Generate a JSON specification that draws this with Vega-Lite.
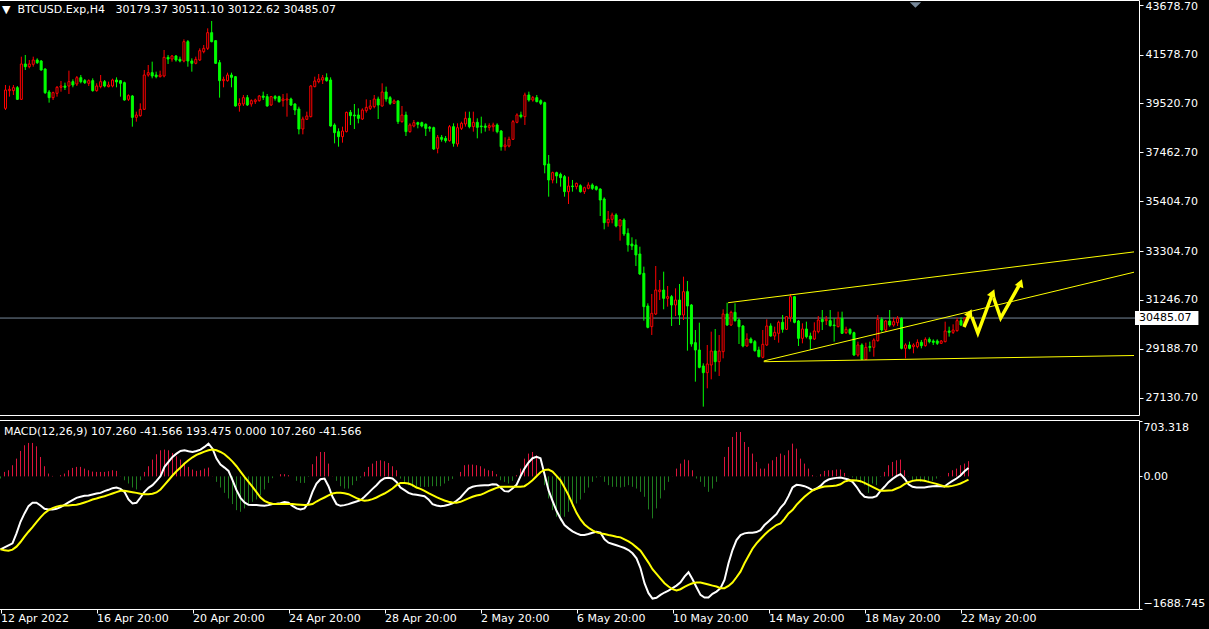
{
"$schema":"https://vega.github.io/schema/vega-lite/v6.json",
"background":"#000000",
"padding":{"left":-4,"top":-1,"right":0,"bottom":0},
"spacing":3,
"config":{
 "view":{"stroke":"#ffffff","strokeWidth":1,"fill":"#000000"},
 "font":"DejaVu Sans",
 "axis":{"labelFont":"DejaVu Sans","labelFontSize":11,"labelColor":"#ffffff","tickColor":"#ffffff","domain":false,"grid":false,"tickSize":4,"labelOverlap":false,"labelBound":false},
 "title":{"font":"DejaVu Sans","fontSize":11,"fontWeight":"normal","color":"#ffffff","anchor":"start","frame":"group"}
},
"datasets":{
"bars":[
{"t":"2022-04-12T20:00Z","o":39314,"h":40297,"l":39244,"c":40086,"m":-929,"s":-929,"d":-27},
{"t":"2022-04-13T00:00Z","o":40058,"h":40269,"l":39806,"c":40114,"m":-904,"s":-942,"d":57},
{"t":"2022-04-13T04:00Z","o":40058,"h":40297,"l":39876,"c":40185,"m":-878,"s":-946,"d":78},
{"t":"2022-04-13T08:00Z","o":40185,"h":40255,"l":39665,"c":39693,"m":-853,"s":-933,"d":142},
{"t":"2022-04-13T12:00Z","o":39693,"h":41489,"l":39665,"c":41181,"m":-726,"s":-895,"d":226},
{"t":"2022-04-13T16:00Z","o":41181,"h":41560,"l":40928,"c":41068,"m":-578,"s":-836,"d":324},
{"t":"2022-04-13T20:00Z","o":41068,"h":41349,"l":40998,"c":41181,"m":-472,"s":-768,"d":396},
{"t":"2022-04-14T00:00Z","o":41167,"h":41489,"l":41068,"c":41349,"m":-379,"s":-705,"d":426},
{"t":"2022-04-14T04:00Z","o":41349,"h":41419,"l":41181,"c":41237,"m":-336,"s":-646,"d":426},
{"t":"2022-04-14T08:00Z","o":41307,"h":41349,"l":40900,"c":40928,"m":-336,"s":-582,"d":383},
{"t":"2022-04-14T12:00Z","o":40970,"h":40998,"l":39918,"c":39974,"m":-370,"s":-523,"d":247},
{"t":"2022-04-14T16:00Z","o":40002,"h":40086,"l":39553,"c":39764,"m":-413,"s":-468,"d":129},
{"t":"2022-04-14T20:00Z","o":39764,"h":40016,"l":39665,"c":39974,"m":-421,"s":-430,"d":36},
{"t":"2022-04-15T00:00Z","o":39946,"h":40255,"l":39806,"c":40199,"m":-421,"s":-404,"d":6},
{"t":"2022-04-15T04:00Z","o":40199,"h":40465,"l":40016,"c":40255,"m":-413,"s":-387,"d":0},
{"t":"2022-04-15T08:00Z","o":40255,"h":40395,"l":40086,"c":40199,"m":-391,"s":-375,"d":15},
{"t":"2022-04-15T12:00Z","o":40255,"h":40900,"l":39918,"c":40437,"m":-362,"s":-370,"d":36},
{"t":"2022-04-15T16:00Z","o":40437,"h":40535,"l":40199,"c":40297,"m":-332,"s":-370,"d":78},
{"t":"2022-04-15T20:00Z","o":40339,"h":40676,"l":40255,"c":40605,"m":-303,"s":-366,"d":108},
{"t":"2022-04-16T00:00Z","o":40605,"h":40718,"l":40367,"c":40437,"m":-273,"s":-362,"d":121},
{"t":"2022-04-16T04:00Z","o":40479,"h":40549,"l":40339,"c":40395,"m":-260,"s":-349,"d":121},
{"t":"2022-04-16T08:00Z","o":40367,"h":40535,"l":40255,"c":40479,"m":-248,"s":-332,"d":99},
{"t":"2022-04-16T12:00Z","o":40479,"h":40577,"l":40016,"c":40058,"m":-243,"s":-315,"d":78},
{"t":"2022-04-16T16:00Z","o":40058,"h":40367,"l":40016,"c":40255,"m":-231,"s":-294,"d":61},
{"t":"2022-04-16T20:00Z","o":40227,"h":40718,"l":40157,"c":40437,"m":-218,"s":-281,"d":57},
{"t":"2022-04-17T00:00Z","o":40437,"h":40507,"l":40199,"c":40255,"m":-210,"s":-265,"d":57},
{"t":"2022-04-17T04:00Z","o":40227,"h":40437,"l":40199,"c":40297,"m":-188,"s":-252,"d":57},
{"t":"2022-04-17T08:00Z","o":40255,"h":40563,"l":40199,"c":40507,"m":-171,"s":-235,"d":66},
{"t":"2022-04-17T12:00Z","o":40507,"h":40619,"l":40199,"c":40423,"m":-150,"s":-218,"d":78},
{"t":"2022-04-17T16:00Z","o":40479,"h":40507,"l":39806,"c":40367,"m":-142,"s":-201,"d":70},
{"t":"2022-04-17T20:00Z","o":40395,"h":40437,"l":39637,"c":39665,"m":-159,"s":-184,"d":2},
{"t":"2022-04-18T00:00Z","o":39693,"h":39904,"l":39623,"c":39848,"m":-197,"s":-184,"d":-49},
{"t":"2022-04-18T04:00Z","o":39834,"h":39876,"l":38542,"c":38935,"m":-294,"s":-193,"d":-91},
{"t":"2022-04-18T08:00Z","o":38935,"h":39174,"l":38753,"c":39034,"m":-345,"s":-201,"d":-142},
{"t":"2022-04-18T12:00Z","o":39006,"h":39525,"l":38963,"c":39272,"m":-336,"s":-210,"d":-167},
{"t":"2022-04-18T16:00Z","o":39272,"h":40928,"l":39244,"c":40718,"m":-269,"s":-222,"d":-49},
{"t":"2022-04-18T20:00Z","o":40718,"h":41139,"l":40647,"c":40816,"m":-197,"s":-227,"d":57},
{"t":"2022-04-19T00:00Z","o":40816,"h":41279,"l":40577,"c":40676,"m":-146,"s":-227,"d":129},
{"t":"2022-04-19T04:00Z","o":40718,"h":40858,"l":40577,"c":40647,"m":-112,"s":-222,"d":214},
{"t":"2022-04-19T08:00Z","o":40647,"h":40900,"l":40619,"c":40718,"m":-57,"s":-205,"d":281},
{"t":"2022-04-19T12:00Z","o":40676,"h":41770,"l":40619,"c":41461,"m":2,"s":-167,"d":332},
{"t":"2022-04-19T16:00Z","o":41461,"h":41560,"l":41181,"c":41391,"m":121,"s":-108,"d":341},
{"t":"2022-04-19T20:00Z","o":41391,"h":41560,"l":41279,"c":41517,"m":184,"s":-49,"d":332},
{"t":"2022-04-20T00:00Z","o":41517,"h":41560,"l":41279,"c":41349,"m":248,"s":11,"d":298},
{"t":"2022-04-20T04:00Z","o":41377,"h":41489,"l":41251,"c":41307,"m":290,"s":66,"d":256},
{"t":"2022-04-20T08:00Z","o":41307,"h":42219,"l":41251,"c":42121,"m":324,"s":112,"d":214},
{"t":"2022-04-20T12:00Z","o":42121,"h":42191,"l":41068,"c":41307,"m":332,"s":163,"d":163},
{"t":"2022-04-20T16:00Z","o":41307,"h":41419,"l":40858,"c":41209,"m":320,"s":205,"d":121},
{"t":"2022-04-20T20:00Z","o":41209,"h":41489,"l":41167,"c":41377,"m":311,"s":243,"d":87},
{"t":"2022-04-21T00:00Z","o":41349,"h":41840,"l":41307,"c":41742,"m":324,"s":273,"d":70},
{"t":"2022-04-21T04:00Z","o":41700,"h":41981,"l":41630,"c":41840,"m":341,"s":294,"d":78},
{"t":"2022-04-21T08:00Z","o":41840,"h":42682,"l":41770,"c":42500,"m":375,"s":315,"d":99},
{"t":"2022-04-21T12:00Z","o":42500,"h":42991,"l":42093,"c":42121,"m":417,"s":332,"d":112},
{"t":"2022-04-21T16:00Z","o":42163,"h":42191,"l":41181,"c":41209,"m":353,"s":341,"d":2},
{"t":"2022-04-21T20:00Z","o":41237,"h":41349,"l":39764,"c":40479,"m":226,"s":332,"d":-70},
{"t":"2022-04-22T00:00Z","o":40479,"h":40647,"l":40199,"c":40535,"m":150,"s":311,"d":-142},
{"t":"2022-04-22T04:00Z","o":40479,"h":40816,"l":40437,"c":40718,"m":112,"s":282,"d":-210},
{"t":"2022-04-22T08:00Z","o":40718,"h":40816,"l":40199,"c":40619,"m":70,"s":239,"d":-281},
{"t":"2022-04-22T12:00Z","o":40647,"h":40676,"l":39385,"c":39413,"m":-49,"s":188,"d":-353},
{"t":"2022-04-22T16:00Z","o":39441,"h":39735,"l":39174,"c":39525,"m":-176,"s":129,"d":-430},
{"t":"2022-04-22T20:00Z","o":39497,"h":39876,"l":39413,"c":39764,"m":-273,"s":61,"d":-451},
{"t":"2022-04-23T00:00Z","o":39764,"h":39876,"l":39413,"c":39455,"m":-332,"s":-6,"d":-408},
{"t":"2022-04-23T04:00Z","o":39497,"h":39693,"l":39385,"c":39637,"m":-362,"s":-70,"d":-366},
{"t":"2022-04-23T08:00Z","o":39595,"h":39721,"l":39497,"c":39665,"m":-366,"s":-133,"d":-324},
{"t":"2022-04-23T12:00Z","o":39637,"h":39876,"l":39595,"c":39834,"m":-366,"s":-201,"d":-294},
{"t":"2022-04-23T16:00Z","o":39834,"h":40016,"l":39665,"c":39778,"m":-370,"s":-269,"d":-239},
{"t":"2022-04-23T20:00Z","o":39806,"h":39918,"l":39385,"c":39413,"m":-375,"s":-311,"d":-167},
{"t":"2022-04-24T00:00Z","o":39455,"h":39834,"l":39413,"c":39806,"m":-366,"s":-336,"d":-83},
{"t":"2022-04-24T04:00Z","o":39806,"h":39876,"l":39637,"c":39735,"m":-353,"s":-349,"d":-23},
{"t":"2022-04-24T08:00Z","o":39806,"h":39848,"l":39553,"c":39595,"m":-349,"s":-353,"d":0},
{"t":"2022-04-24T12:00Z","o":39637,"h":39918,"l":39385,"c":39707,"m":-341,"s":-353,"d":28},
{"t":"2022-04-24T16:00Z","o":39665,"h":39946,"l":38963,"c":39707,"m":-328,"s":-353,"d":28},
{"t":"2022-04-24T20:00Z","o":39707,"h":39764,"l":39413,"c":39455,"m":-336,"s":-353,"d":15},
{"t":"2022-04-25T00:00Z","o":39497,"h":39525,"l":39034,"c":39244,"m":-375,"s":-353,"d":0},
{"t":"2022-04-25T04:00Z","o":39286,"h":39385,"l":38220,"c":38444,"m":-408,"s":-358,"d":-57},
{"t":"2022-04-25T08:00Z","o":38444,"h":38963,"l":38220,"c":38865,"m":-421,"s":-362,"d":-83},
{"t":"2022-04-25T12:00Z","o":38851,"h":39174,"l":38823,"c":38992,"m":-408,"s":-366,"d":-83},
{"t":"2022-04-25T16:00Z","o":38963,"h":40297,"l":38935,"c":40255,"m":-336,"s":-362,"d":-6},
{"t":"2022-04-25T20:00Z","o":40227,"h":40647,"l":40199,"c":40465,"m":-197,"s":-353,"d":155},
{"t":"2022-04-26T00:00Z","o":40437,"h":40760,"l":40367,"c":40549,"m":-91,"s":-320,"d":256},
{"t":"2022-04-26T04:00Z","o":40507,"h":40718,"l":40339,"c":40605,"m":-36,"s":-294,"d":311},
{"t":"2022-04-26T08:00Z","o":40605,"h":40788,"l":40437,"c":40479,"m":-27,"s":-269,"d":311},
{"t":"2022-04-26T12:00Z","o":40507,"h":40619,"l":38542,"c":38570,"m":-125,"s":-243,"d":163},
{"t":"2022-04-26T16:00Z","o":38613,"h":38683,"l":37841,"c":38290,"m":-260,"s":-218,"d":2},
{"t":"2022-04-26T20:00Z","o":38332,"h":38472,"l":37700,"c":38121,"m":-353,"s":-210,"d":-57},
{"t":"2022-04-27T00:00Z","o":38121,"h":38542,"l":37869,"c":38360,"m":-375,"s":-210,"d":-125},
{"t":"2022-04-27T04:00Z","o":38332,"h":39174,"l":38304,"c":39146,"m":-366,"s":-214,"d":-155},
{"t":"2022-04-27T08:00Z","o":39146,"h":39244,"l":38613,"c":39006,"m":-353,"s":-227,"d":-155},
{"t":"2022-04-27T12:00Z","o":39034,"h":39497,"l":38444,"c":38992,"m":-336,"s":-252,"d":-112},
{"t":"2022-04-27T16:00Z","o":39034,"h":39314,"l":38683,"c":38893,"m":-320,"s":-277,"d":-57},
{"t":"2022-04-27T20:00Z","o":38865,"h":39314,"l":38823,"c":39244,"m":-303,"s":-298,"d":-15},
{"t":"2022-04-28T00:00Z","o":39216,"h":39693,"l":39132,"c":39356,"m":-260,"s":-311,"d":57},
{"t":"2022-04-28T04:00Z","o":39314,"h":39665,"l":39244,"c":39413,"m":-210,"s":-303,"d":121},
{"t":"2022-04-28T08:00Z","o":39385,"h":39876,"l":39314,"c":39707,"m":-159,"s":-290,"d":163},
{"t":"2022-04-28T12:00Z","o":39707,"h":39806,"l":38865,"c":39455,"m":-112,"s":-269,"d":197},
{"t":"2022-04-28T16:00Z","o":39413,"h":40367,"l":39385,"c":40002,"m":-57,"s":-243,"d":205},
{"t":"2022-04-28T20:00Z","o":40002,"h":40227,"l":39595,"c":39707,"m":-23,"s":-218,"d":193},
{"t":"2022-04-29T00:00Z","o":39764,"h":39834,"l":39455,"c":39525,"m":-19,"s":-188,"d":171},
{"t":"2022-04-29T04:00Z","o":39525,"h":39693,"l":39497,"c":39623,"m":-27,"s":-155,"d":129},
{"t":"2022-04-29T08:00Z","o":39623,"h":39665,"l":38655,"c":38753,"m":-70,"s":-112,"d":78},
{"t":"2022-04-29T12:00Z","o":38753,"h":39413,"l":38711,"c":39034,"m":-142,"s":-83,"d":-28},
{"t":"2022-04-29T16:00Z","o":39034,"h":39174,"l":38150,"c":38332,"m":-176,"s":-83,"d":-70},
{"t":"2022-04-29T20:00Z","o":38332,"h":38683,"l":38290,"c":38613,"m":-210,"s":-91,"d":-112},
{"t":"2022-04-30T00:00Z","o":38570,"h":38823,"l":38514,"c":38711,"m":-227,"s":-112,"d":-133},
{"t":"2022-04-30T04:00Z","o":38711,"h":38753,"l":38472,"c":38641,"m":-235,"s":-142,"d":-133},
{"t":"2022-04-30T08:00Z","o":38711,"h":38753,"l":38514,"c":38570,"m":-243,"s":-159,"d":-133},
{"t":"2022-04-30T12:00Z","o":38641,"h":38683,"l":38150,"c":38472,"m":-252,"s":-184,"d":-133},
{"t":"2022-04-30T16:00Z","o":38514,"h":38570,"l":38332,"c":38472,"m":-294,"s":-214,"d":-133},
{"t":"2022-04-30T20:00Z","o":38500,"h":38542,"l":37560,"c":37602,"m":-353,"s":-239,"d":-125},
{"t":"2022-05-01T00:00Z","o":37630,"h":38192,"l":37420,"c":38093,"m":-370,"s":-265,"d":-125},
{"t":"2022-05-01T04:00Z","o":38093,"h":38192,"l":37911,"c":38009,"m":-379,"s":-286,"d":-125},
{"t":"2022-05-01T08:00Z","o":38051,"h":38150,"l":37869,"c":37953,"m":-375,"s":-307,"d":-91},
{"t":"2022-05-01T12:00Z","o":37953,"h":38613,"l":37911,"c":38542,"m":-362,"s":-324,"d":-57},
{"t":"2022-05-01T16:00Z","o":38542,"h":38683,"l":37700,"c":37841,"m":-345,"s":-332,"d":-32},
{"t":"2022-05-01T20:00Z","o":37813,"h":38683,"l":37700,"c":38500,"m":-311,"s":-336,"d":0},
{"t":"2022-05-02T00:00Z","o":38472,"h":38753,"l":38402,"c":38683,"m":-269,"s":-324,"d":57},
{"t":"2022-05-02T04:00Z","o":38655,"h":39174,"l":38542,"c":38893,"m":-210,"s":-303,"d":142},
{"t":"2022-05-02T08:00Z","o":38893,"h":39174,"l":38472,"c":38542,"m":-155,"s":-281,"d":150},
{"t":"2022-05-02T12:00Z","o":38542,"h":39174,"l":38332,"c":38725,"m":-133,"s":-260,"d":150},
{"t":"2022-05-02T16:00Z","o":38725,"h":38893,"l":38051,"c":38514,"m":-121,"s":-243,"d":142},
{"t":"2022-05-02T20:00Z","o":38570,"h":38963,"l":38262,"c":38542,"m":-116,"s":-235,"d":129},
{"t":"2022-05-03T00:00Z","o":38570,"h":38683,"l":38332,"c":38514,"m":-112,"s":-214,"d":99},
{"t":"2022-05-03T04:00Z","o":38514,"h":38683,"l":38374,"c":38584,"m":-112,"s":-188,"d":78},
{"t":"2022-05-03T08:00Z","o":38542,"h":38711,"l":38332,"c":38613,"m":-100,"s":-167,"d":70},
{"t":"2022-05-03T12:00Z","o":38613,"h":38683,"l":38262,"c":38332,"m":-104,"s":-146,"d":28},
{"t":"2022-05-03T16:00Z","o":38360,"h":38402,"l":37532,"c":37700,"m":-142,"s":-133,"d":-49},
{"t":"2022-05-03T20:00Z","o":37700,"h":38093,"l":37532,"c":37771,"m":-188,"s":-133,"d":-70},
{"t":"2022-05-04T00:00Z","o":37729,"h":38121,"l":37672,"c":38009,"m":-193,"s":-133,"d":-91},
{"t":"2022-05-04T04:00Z","o":38009,"h":38823,"l":37981,"c":38753,"m":-155,"s":-133,"d":-57},
{"t":"2022-05-04T08:00Z","o":38725,"h":39104,"l":38683,"c":39034,"m":-108,"s":-133,"d":15},
{"t":"2022-05-04T12:00Z","o":39034,"h":39174,"l":38893,"c":38963,"m":2,"s":-133,"d":99},
{"t":"2022-05-04T16:00Z","o":38963,"h":39974,"l":38613,"c":39876,"m":99,"s":-125,"d":226},
{"t":"2022-05-04T20:00Z","o":39876,"h":40016,"l":39595,"c":39665,"m":176,"s":-91,"d":290},
{"t":"2022-05-05T00:00Z","o":39665,"h":39834,"l":39595,"c":39764,"m":231,"s":-49,"d":311},
{"t":"2022-05-05T04:00Z","o":39764,"h":39876,"l":39567,"c":39595,"m":248,"s":2,"d":269},
{"t":"2022-05-05T08:00Z","o":39637,"h":39693,"l":39455,"c":39525,"m":231,"s":53,"d":2},
{"t":"2022-05-05T12:00Z","o":39553,"h":39595,"l":36578,"c":36929,"m":28,"s":82,"d":-112},
{"t":"2022-05-05T16:00Z","o":36971,"h":37350,"l":35595,"c":36298,"m":-176,"s":87,"d":-281},
{"t":"2022-05-05T20:00Z","o":36298,"h":36648,"l":36157,"c":36606,"m":-311,"s":61,"d":-430},
{"t":"2022-05-06T00:00Z","o":36606,"h":36648,"l":36157,"c":36466,"m":-438,"s":6,"d":-514},
{"t":"2022-05-06T04:00Z","o":36536,"h":36606,"l":36017,"c":36396,"m":-535,"s":-49,"d":-565},
{"t":"2022-05-06T08:00Z","o":36438,"h":36508,"l":35595,"c":35806,"m":-620,"s":-142,"d":-514},
{"t":"2022-05-06T12:00Z","o":35806,"h":36438,"l":35286,"c":36045,"m":-662,"s":-239,"d":-451},
{"t":"2022-05-06T16:00Z","o":36045,"h":36298,"l":35806,"c":36017,"m":-700,"s":-353,"d":-387},
{"t":"2022-05-06T20:00Z","o":36017,"h":36185,"l":35904,"c":36157,"m":-726,"s":-464,"d":-345},
{"t":"2022-05-07T00:00Z","o":36058,"h":36115,"l":35764,"c":35806,"m":-747,"s":-548,"d":-294},
{"t":"2022-05-07T04:00Z","o":35806,"h":36016,"l":35708,"c":35974,"m":-747,"s":-612,"d":-210},
{"t":"2022-05-07T08:00Z","o":35946,"h":36199,"l":35904,"c":36087,"m":-734,"s":-654,"d":-142},
{"t":"2022-05-07T12:00Z","o":36087,"h":36157,"l":35876,"c":35946,"m":-717,"s":-688,"d":-70},
{"t":"2022-05-07T16:00Z","o":36016,"h":36058,"l":35848,"c":35904,"m":-705,"s":-713,"d":-15},
{"t":"2022-05-07T20:00Z","o":35918,"h":35946,"l":34781,"c":35455,"m":-717,"s":-726,"d":-6},
{"t":"2022-05-08T00:00Z","o":35497,"h":35567,"l":34220,"c":34501,"m":-802,"s":-734,"d":-70},
{"t":"2022-05-08T04:00Z","o":34501,"h":34992,"l":34332,"c":34641,"m":-844,"s":-747,"d":-112},
{"t":"2022-05-08T08:00Z","o":34641,"h":34922,"l":34473,"c":34824,"m":-861,"s":-756,"d":-133},
{"t":"2022-05-08T12:00Z","o":34824,"h":34894,"l":34304,"c":34360,"m":-878,"s":-768,"d":-133},
{"t":"2022-05-08T16:00Z","o":34360,"h":34655,"l":33743,"c":34613,"m":-895,"s":-777,"d":-142},
{"t":"2022-05-08T20:00Z","o":34613,"h":34683,"l":33940,"c":34024,"m":-912,"s":-802,"d":-133},
{"t":"2022-05-09T00:00Z","o":34052,"h":34262,"l":33280,"c":33561,"m":-938,"s":-828,"d":-112},
{"t":"2022-05-09T04:00Z","o":33603,"h":33884,"l":33350,"c":33519,"m":-980,"s":-861,"d":-133},
{"t":"2022-05-09T08:00Z","o":33561,"h":33799,"l":32677,"c":33140,"m":-1043,"s":-904,"d":-155},
{"t":"2022-05-09T12:00Z","o":33182,"h":33490,"l":32298,"c":32340,"m":-1170,"s":-946,"d":-197},
{"t":"2022-05-09T16:00Z","o":32368,"h":32649,"l":30375,"c":30965,"m":-1361,"s":-1022,"d":-260},
{"t":"2022-05-09T20:00Z","o":30993,"h":31105,"l":30052,"c":30094,"m":-1488,"s":-1098,"d":-421},
{"t":"2022-05-10T00:00Z","o":30123,"h":31498,"l":29772,"c":30684,"m":-1556,"s":-1183,"d":-535},
{"t":"2022-05-10T04:00Z","o":30656,"h":32677,"l":30614,"c":31666,"m":-1547,"s":-1242,"d":-408},
{"t":"2022-05-10T08:00Z","o":31596,"h":32087,"l":31245,"c":31666,"m":-1509,"s":-1302,"d":-281},
{"t":"2022-05-10T12:00Z","o":31666,"h":32438,"l":30853,"c":31316,"m":-1479,"s":-1361,"d":-176},
{"t":"2022-05-10T16:00Z","o":31316,"h":31835,"l":30965,"c":31386,"m":-1454,"s":-1403,"d":-70},
{"t":"2022-05-10T20:00Z","o":31386,"h":31456,"l":30151,"c":31035,"m":-1424,"s":-1437,"d":2},
{"t":"2022-05-11T00:00Z","o":31035,"h":31736,"l":30572,"c":31245,"m":-1391,"s":-1454,"d":99},
{"t":"2022-05-11T04:00Z","o":31245,"h":31919,"l":30193,"c":30614,"m":-1348,"s":-1437,"d":163},
{"t":"2022-05-11T08:00Z","o":30614,"h":32227,"l":30403,"c":31596,"m":-1276,"s":-1407,"d":214},
{"t":"2022-05-11T12:00Z","o":31596,"h":32045,"l":29112,"c":30993,"m":-1221,"s":-1382,"d":205},
{"t":"2022-05-11T16:00Z","o":31035,"h":31077,"l":29281,"c":29393,"m":-1310,"s":-1361,"d":78},
{"t":"2022-05-11T20:00Z","o":29449,"h":29982,"l":27807,"c":29140,"m":-1412,"s":-1352,"d":-28},
{"t":"2022-05-12T00:00Z","o":29140,"h":30291,"l":28369,"c":28411,"m":-1509,"s":-1352,"d":-70},
{"t":"2022-05-12T04:00Z","o":28467,"h":28579,"l":26755,"c":28186,"m":-1543,"s":-1365,"d":-133},
{"t":"2022-05-12T08:00Z","o":28186,"h":29351,"l":27527,"c":28551,"m":-1543,"s":-1378,"d":-197},
{"t":"2022-05-12T12:00Z","o":28509,"h":29912,"l":27905,"c":29098,"m":-1496,"s":-1391,"d":-155},
{"t":"2022-05-12T16:00Z","o":29098,"h":30024,"l":28229,"c":28649,"m":-1467,"s":-1403,"d":-70},
{"t":"2022-05-12T20:00Z","o":28649,"h":29772,"l":28046,"c":29098,"m":-1424,"s":-1424,"d":0},
{"t":"2022-05-13T00:00Z","o":29070,"h":30853,"l":28789,"c":30656,"m":-1319,"s":-1424,"d":248},
{"t":"2022-05-13T04:00Z","o":30656,"h":31133,"l":30151,"c":30193,"m":-1107,"s":-1395,"d":375},
{"t":"2022-05-13T08:00Z","o":30193,"h":30797,"l":30151,"c":30727,"m":-938,"s":-1352,"d":502},
{"t":"2022-05-13T12:00Z","o":30727,"h":31105,"l":30333,"c":30375,"m":-811,"s":-1285,"d":565},
{"t":"2022-05-13T16:00Z","o":30403,"h":30473,"l":29393,"c":30122,"m":-747,"s":-1213,"d":565},
{"t":"2022-05-13T20:00Z","o":30151,"h":30193,"l":29252,"c":29309,"m":-726,"s":-1107,"d":438},
{"t":"2022-05-14T00:00Z","o":29309,"h":29842,"l":29281,"c":29603,"m":-717,"s":-1014,"d":375},
{"t":"2022-05-14T04:00Z","o":29603,"h":29673,"l":29421,"c":29449,"m":-717,"s":-921,"d":290},
{"t":"2022-05-14T08:00Z","o":29491,"h":29561,"l":29070,"c":29112,"m":-709,"s":-853,"d":184},
{"t":"2022-05-14T12:00Z","o":29140,"h":29281,"l":28832,"c":28860,"m":-684,"s":-798,"d":99},
{"t":"2022-05-14T16:00Z","o":28832,"h":29982,"l":28789,"c":29379,"m":-620,"s":-743,"d":99},
{"t":"2022-05-14T20:00Z","o":29351,"h":30431,"l":29309,"c":30151,"m":-574,"s":-696,"d":163},
{"t":"2022-05-15T00:00Z","o":30151,"h":30263,"l":29702,"c":29730,"m":-527,"s":-658,"d":205},
{"t":"2022-05-15T04:00Z","o":29730,"h":30122,"l":29561,"c":29884,"m":-480,"s":-620,"d":248},
{"t":"2022-05-15T08:00Z","o":29842,"h":30375,"l":29449,"c":30305,"m":-400,"s":-599,"d":290},
{"t":"2022-05-15T12:00Z","o":30305,"h":30614,"l":29870,"c":30010,"m":-345,"s":-540,"d":269},
{"t":"2022-05-15T16:00Z","o":30010,"h":30571,"l":29982,"c":30543,"m":-252,"s":-472,"d":332},
{"t":"2022-05-15T20:00Z","o":30515,"h":31498,"l":30333,"c":31385,"m":-142,"s":-430,"d":417},
{"t":"2022-05-16T00:00Z","o":31385,"h":31414,"l":30263,"c":30305,"m":-108,"s":-362,"d":353},
{"t":"2022-05-16T04:00Z","o":30361,"h":30403,"l":29309,"c":29631,"m":-112,"s":-311,"d":226},
{"t":"2022-05-16T08:00Z","o":29631,"h":30263,"l":29421,"c":30024,"m":-125,"s":-260,"d":163},
{"t":"2022-05-16T12:00Z","o":30024,"h":30333,"l":29631,"c":29702,"m":-146,"s":-218,"d":99},
{"t":"2022-05-16T16:00Z","o":29730,"h":29870,"l":29140,"c":29603,"m":-176,"s":-180,"d":15},
{"t":"2022-05-16T20:00Z","o":29603,"h":30305,"l":29561,"c":29940,"m":-155,"s":-159,"d":2},
{"t":"2022-05-17T00:00Z","o":29912,"h":30571,"l":29842,"c":30403,"m":-121,"s":-142,"d":28},
{"t":"2022-05-17T04:00Z","o":30431,"h":30824,"l":29982,"c":30333,"m":-70,"s":-129,"d":70},
{"t":"2022-05-17T08:00Z","o":30375,"h":30571,"l":30193,"c":30431,"m":-40,"s":-125,"d":78},
{"t":"2022-05-17T12:00Z","o":30375,"h":30824,"l":30122,"c":30165,"m":-27,"s":-121,"d":78},
{"t":"2022-05-17T16:00Z","o":30193,"h":30473,"l":29491,"c":30165,"m":-19,"s":-116,"d":87},
{"t":"2022-05-17T20:00Z","o":30122,"h":30754,"l":30094,"c":30473,"m":-15,"s":-100,"d":87},
{"t":"2022-05-18T00:00Z","o":30473,"h":30754,"l":29814,"c":29842,"m":-27,"s":-66,"d":44},
{"t":"2022-05-18T04:00Z","o":29870,"h":30122,"l":29814,"c":30010,"m":-40,"s":-53,"d":2},
{"t":"2022-05-18T08:00Z","o":30010,"h":30052,"l":29772,"c":29842,"m":-70,"s":-49,"d":-15},
{"t":"2022-05-18T12:00Z","o":29870,"h":29912,"l":28888,"c":28930,"m":-133,"s":-53,"d":-49},
{"t":"2022-05-18T16:00Z","o":28930,"h":29491,"l":28860,"c":29351,"m":-210,"s":-61,"d":-83},
{"t":"2022-05-18T20:00Z","o":29351,"h":29421,"l":28719,"c":28746,"m":-260,"s":-83,"d":-112},
{"t":"2022-05-19T00:00Z","o":28746,"h":29449,"l":28719,"c":29252,"m":-269,"s":-108,"d":-210},
{"t":"2022-05-19T04:00Z","o":29281,"h":29491,"l":29070,"c":29252,"m":-269,"s":-133,"d":-91},
{"t":"2022-05-19T08:00Z","o":29252,"h":29631,"l":28860,"c":29561,"m":-252,"s":-159,"d":-112},
{"t":"2022-05-19T12:00Z","o":29533,"h":30614,"l":29491,"c":30431,"m":-184,"s":-184,"d":-6},
{"t":"2022-05-19T16:00Z","o":30431,"h":30515,"l":29912,"c":29982,"m":-133,"s":-184,"d":57},
{"t":"2022-05-19T20:00Z","o":29982,"h":30403,"l":29912,"c":30361,"m":-74,"s":-180,"d":142},
{"t":"2022-05-20T00:00Z","o":30361,"h":30824,"l":30122,"c":30193,"m":-32,"s":-176,"d":184},
{"t":"2022-05-20T04:00Z","o":30193,"h":30515,"l":30122,"c":30333,"m":2,"s":-155,"d":205},
{"t":"2022-05-20T08:00Z","o":30291,"h":30571,"l":30151,"c":30473,"m":28,"s":-133,"d":214},
{"t":"2022-05-20T12:00Z","o":30473,"h":30515,"l":29168,"c":29210,"m":-27,"s":-100,"d":78},
{"t":"2022-05-20T16:00Z","o":29210,"h":29421,"l":28789,"c":29351,"m":-100,"s":-74,"d":2},
{"t":"2022-05-20T20:00Z","o":29351,"h":29491,"l":29168,"c":29210,"m":-133,"s":-57,"d":-49},
{"t":"2022-05-21T00:00Z","o":29281,"h":29421,"l":29000,"c":29351,"m":-142,"s":-49,"d":-57},
{"t":"2022-05-21T04:00Z","o":29281,"h":29589,"l":29210,"c":29463,"m":-142,"s":-49,"d":-70},
{"t":"2022-05-21T08:00Z","o":29463,"h":29561,"l":29210,"c":29323,"m":-142,"s":-57,"d":-70},
{"t":"2022-05-21T12:00Z","o":29323,"h":29673,"l":29281,"c":29589,"m":-133,"s":-70,"d":-57},
{"t":"2022-05-21T16:00Z","o":29589,"h":29673,"l":29421,"c":29491,"m":-125,"s":-83,"d":-57},
{"t":"2022-05-21T20:00Z","o":29519,"h":29589,"l":29351,"c":29463,"m":-121,"s":-95,"d":-28},
{"t":"2022-05-22T00:00Z","o":29519,"h":29589,"l":29351,"c":29421,"m":-125,"s":-112,"d":2},
{"t":"2022-05-22T04:00Z","o":29421,"h":29561,"l":29393,"c":29519,"m":-129,"s":-129,"d":0},
{"t":"2022-05-22T08:00Z","o":29491,"h":30333,"l":29463,"c":29940,"m":-91,"s":-129,"d":44},
{"t":"2022-05-22T12:00Z","o":29940,"h":30122,"l":29702,"c":29884,"m":-57,"s":-121,"d":78},
{"t":"2022-05-22T16:00Z","o":29884,"h":30221,"l":29814,"c":29982,"m":-27,"s":-108,"d":99},
{"t":"2022-05-22T20:00Z","o":29954,"h":30501,"l":29912,"c":30375,"m":11,"s":-91,"d":142},
{"t":"2022-05-23T00:00Z","o":30375,"h":30515,"l":30151,"c":30193,"m":65,"s":-68,"d":163},
{"t":"2022-05-23T04:00Z","o":30179.37,"h":30511.10,"l":30122.62,"c":30485.07,"m":107.26,"s":-41.566,"d":193.475}
],
"lines":[
{"id":"upper","t":"2022-05-13T05:00Z","p":31131},{"id":"upper","t":"2022-05-30T06:30Z","p":33270},
{"id":"rise","t":"2022-05-14T17:00Z","p":28677},{"id":"rise","t":"2022-05-30T06:30Z","p":32415},
{"id":"base","t":"2022-05-14T17:00Z","p":28647},{"id":"base","t":"2022-05-30T06:30Z","p":28908}
],
"arrows":[
{"id":"a","k":0,"t":"2022-05-23T03:00Z","p":30108},{"id":"a","k":1,"t":"2022-05-23T09:00Z","p":30698},
{"id":"b","k":0,"t":"2022-05-23T11:00Z","p":30529},{"id":"b","k":1,"t":"2022-05-23T17:00Z","p":29856},{"id":"b","k":2,"t":"2022-05-24T08:00Z","p":31540},
{"id":"c","k":0,"t":"2022-05-24T09:00Z","p":31329},{"id":"c","k":1,"t":"2022-05-24T16:00Z","p":30487},{"id":"c","k":2,"t":"2022-05-25T12:00Z","p":31961}
],
"heads":[
{"id":"a","t":"2022-05-23T09:00Z","p":30698},
{"id":"b","t":"2022-05-24T08:00Z","p":31540},
{"id":"c","t":"2022-05-25T12:00Z","p":31961}
],
"last":[{"t":"2022-05-23T04:00Z","p":30485.07,"label":"30485.07"}]
},
"vconcat":[
{
 "width":1140,"height":415,
 "title":{"text":"▼\u00a0 BTCUSD.Exp,H4\u00a0\u00a0 30179.37 30511.10 30122.62 30485.07","offset":-15,"dx":3},
 "layer":[
  {"data":{"name":"last"},"mark":{"type":"rule","color":"#778899","strokeWidth":1},
   "encoding":{"y":{"field":"p","type":"quantitative","scale":{"domain":[26403.5,43875],"zero":false,"nice":false},
      "axis":{"orient":"right","values":[43678.7,41578.7,39520.7,37462.7,35404.7,33304.7,31246.7,29188.7,27130.7],"format":".2f","labelPadding":2,"tickSize":4,"labelOffset":{"condition":{"test":"datum.value > 43000","value":2},"value":0}}}}},
  {"data":{"name":"bars"},"mark":{"type":"rule","strokeWidth":1},
   "encoding":{
    "x":{"field":"t","type":"temporal","scale":{"domain":[{"year":2022,"month":4,"date":12,"hours":18,"minutes":30,"utc":true},{"year":2022,"month":5,"date":30,"hours":6,"minutes":30,"utc":true}]},"axis":null},
    "y":{"field":"l","type":"quantitative","scale":{"domain":[26403.5,43875],"zero":false,"nice":false},
      "axis":{"orient":"right","values":[43678.7,41578.7,39520.7,37462.7,35404.7,33304.7,31246.7,29188.7,27130.7],"format":".2f","labelPadding":2,"tickSize":4,"labelOffset":{"condition":{"test":"datum.value > 43000","value":2},"value":0}}},
    "y2":{"field":"h"},
    "color":{"condition":{"test":"datum.c >= datum.o","value":"#ff0000"},"value":"#00ff00"}}},
  {"data":{"name":"bars"},"mark":{"type":"bar","size":2,"strokeWidth":1},
   "encoding":{
    "x":{"field":"t","type":"temporal","scale":{"domain":[{"year":2022,"month":4,"date":12,"hours":18,"minutes":30,"utc":true},{"year":2022,"month":5,"date":30,"hours":6,"minutes":30,"utc":true}]},"axis":null},
    "y":{"field":"o","type":"quantitative","scale":{"domain":[26403.5,43875],"zero":false,"nice":false},
      "axis":{"orient":"right","values":[43678.7,41578.7,39520.7,37462.7,35404.7,33304.7,31246.7,29188.7,27130.7],"format":".2f","labelPadding":2,"tickSize":4,"labelOffset":{"condition":{"test":"datum.value > 43000","value":2},"value":0}}},
    "y2":{"field":"c"},
    "fill":{"condition":{"test":"datum.c >= datum.o","value":"#000000"},"value":"#00ff00"},
    "stroke":{"condition":{"test":"datum.c >= datum.o","value":"#ff0000"},"value":"#00ff00"}}},
  {"data":{"name":"lines"},"mark":{"type":"line","color":"#ffff00","strokeWidth":1},
   "encoding":{
    "x":{"field":"t","type":"temporal","scale":{"domain":[{"year":2022,"month":4,"date":12,"hours":18,"minutes":30,"utc":true},{"year":2022,"month":5,"date":30,"hours":6,"minutes":30,"utc":true}]},"axis":null},
    "y":{"field":"p","type":"quantitative","scale":{"domain":[26403.5,43875],"zero":false,"nice":false},
      "axis":{"orient":"right","values":[43678.7,41578.7,39520.7,37462.7,35404.7,33304.7,31246.7,29188.7,27130.7],"format":".2f","labelPadding":2,"tickSize":4,"labelOffset":{"condition":{"test":"datum.value > 43000","value":2},"value":0}}},
    "detail":{"field":"id"}}},
  {"data":{"name":"arrows"},"mark":{"type":"line","color":"#ffff00","strokeWidth":3.5,"strokeJoin":"miter"},
   "encoding":{
    "x":{"field":"t","type":"temporal","scale":{"domain":[{"year":2022,"month":4,"date":12,"hours":18,"minutes":30,"utc":true},{"year":2022,"month":5,"date":30,"hours":6,"minutes":30,"utc":true}]},"axis":null},
    "y":{"field":"p","type":"quantitative","scale":{"domain":[26403.5,43875],"zero":false,"nice":false},
      "axis":{"orient":"right","values":[43678.7,41578.7,39520.7,37462.7,35404.7,33304.7,31246.7,29188.7,27130.7],"format":".2f","labelPadding":2,"tickSize":4,"labelOffset":{"condition":{"test":"datum.value > 43000","value":2},"value":0}}},
    "detail":{"field":"id"},"order":{"field":"k"}}},
  {"data":{"name":"heads"},"mark":{"type":"point","shape":"triangle-up","filled":true,"color":"#ffff00","size":85,"opacity":1},
   "encoding":{
    "x":{"field":"t","type":"temporal","scale":{"domain":[{"year":2022,"month":4,"date":12,"hours":18,"minutes":30,"utc":true},{"year":2022,"month":5,"date":30,"hours":6,"minutes":30,"utc":true}]},"axis":null},
    "y":{"field":"p","type":"quantitative","scale":{"domain":[26403.5,43875],"zero":false,"nice":false},
      "axis":{"orient":"right","values":[43678.7,41578.7,39520.7,37462.7,35404.7,33304.7,31246.7,29188.7,27130.7],"format":".2f","labelPadding":2,"tickSize":4,"labelOffset":{"condition":{"test":"datum.value > 43000","value":2},"value":0}}},
    "angle":{"field":"id","type":"nominal","scale":{"domain":["a","b","c"],"range":[24,21,30]},"legend":null}}},
  {"data":{"name":"last"},"mark":{"type":"rect","color":"#ffffff","opacity":1},
   "encoding":{
    "x":{"datum":{"year":2022,"month":5,"date":30,"hours":7,"minutes":30,"utc":true},"type":"temporal","scale":{"domain":[{"year":2022,"month":4,"date":12,"hours":18,"minutes":30,"utc":true},{"year":2022,"month":5,"date":30,"hours":6,"minutes":30,"utc":true}]},"axis":null},
    "x2":{"datum":{"year":2022,"month":6,"date":1,"hours":23,"minutes":30,"utc":true}},
    "y":{"datum":30782,"type":"quantitative","scale":{"domain":[26403.5,43875],"zero":false,"nice":false},
      "axis":{"orient":"right","values":[43678.7,41578.7,39520.7,37462.7,35404.7,33304.7,31246.7,29188.7,27130.7],"format":".2f","labelPadding":2,"tickSize":4,"labelOffset":{"condition":{"test":"datum.value > 43000","value":2},"value":0}}},
    "y2":{"datum":30192}}},
  {"data":{"name":"last"},"mark":{"type":"text","color":"#000000","font":"DejaVu Sans","fontSize":11,"align":"left","baseline":"middle"},
   "encoding":{
    "x":{"datum":{"year":2022,"month":5,"date":30,"hours":11,"minutes":30,"utc":true},"type":"temporal","scale":{"domain":[{"year":2022,"month":4,"date":12,"hours":18,"minutes":30,"utc":true},{"year":2022,"month":5,"date":30,"hours":6,"minutes":30,"utc":true}]},"axis":null},
    "y":{"field":"p","type":"quantitative","scale":{"domain":[26403.5,43875],"zero":false,"nice":false},
      "axis":{"orient":"right","values":[43678.7,41578.7,39520.7,37462.7,35404.7,33304.7,31246.7,29188.7,27130.7],"format":".2f","labelPadding":2,"tickSize":4,"labelOffset":{"condition":{"test":"datum.value > 43000","value":2},"value":0}}},
    "text":{"field":"label"}}},
  {"data":{"name":"last"},"mark":{"type":"point","shape":"M-1,-0.5L1,-0.5L0,0.5Z","filled":true,"color":"#778899","size":130,"opacity":1},
   "encoding":{
    "x":{"datum":{"year":2022,"month":5,"date":21,"hours":2,"utc":true},"type":"temporal","scale":{"domain":[{"year":2022,"month":4,"date":12,"hours":18,"minutes":30,"utc":true},{"year":2022,"month":5,"date":30,"hours":6,"minutes":30,"utc":true}]},"axis":null},
    "y":{"datum":43664,"type":"quantitative","scale":{"domain":[26403.5,43875],"zero":false,"nice":false},
      "axis":{"orient":"right","values":[43678.7,41578.7,39520.7,37462.7,35404.7,33304.7,31246.7,29188.7,27130.7],"format":".2f","labelPadding":2,"tickSize":4,"labelOffset":{"condition":{"test":"datum.value > 43000","value":2},"value":0}}}}}
 ]
},
{
 "width":1140,"height":189,
 "title":{"text":"MACD(12,26,9) 107.260 -41.566 193.475 0.000 107.260 -41.566","offset":-17,"dx":5},
 "layer":[
  {"data":{"name":"bars"},"mark":{"type":"rule","strokeWidth":1},
   "encoding":{
    "x":{"field":"t","type":"temporal","scale":{"domain":[{"year":2022,"month":4,"date":12,"hours":18,"minutes":30,"utc":true},{"year":2022,"month":5,"date":30,"hours":6,"minutes":30,"utc":true}]},
      "axis":{"values":[{"year":2022,"month":4,"date":12,"hours":20,"utc":true},{"year":2022,"month":4,"date":16,"hours":20,"utc":true},{"year":2022,"month":4,"date":20,"hours":20,"utc":true},{"year":2022,"month":4,"date":24,"hours":20,"utc":true},{"year":2022,"month":4,"date":28,"hours":20,"utc":true},{"year":2022,"month":5,"date":2,"hours":20,"utc":true},{"year":2022,"month":5,"date":6,"hours":20,"utc":true},{"year":2022,"month":5,"date":10,"hours":20,"utc":true},{"year":2022,"month":5,"date":14,"hours":20,"utc":true},{"year":2022,"month":5,"date":18,"hours":20,"utc":true},{"year":2022,"month":5,"date":22,"hours":20,"utc":true}],
       "labelExpr":"datum.value < utc(2022,3,13) ? '12 Apr 2022' : utcFormat(datum.value, '%-d %b %H:%M')","labelAlign":"left","labelPadding":-1,"tickSize":4}},
    "y":{"field":"d","type":"quantitative","scale":{"domain":[-1689,718],"zero":false,"nice":false},
      "axis":{"orient":"right","values":[703.318,0,-1688.745],"labelExpr":"datum.value == 0 ? '0.00' : format(datum.value, '.3f')","tickSize":3,"labelPadding":1,"labelFlush":3}},
    "y2":{"datum":0},
    "color":{"condition":{"test":"datum.d >= 0","value":"#dc143c"},"value":"#1e7b1e"}}},
  {"data":{"name":"bars"},"mark":{"type":"line","color":"#ffffff","strokeWidth":2},
   "encoding":{
    "x":{"field":"t","type":"temporal","scale":{"domain":[{"year":2022,"month":4,"date":12,"hours":18,"minutes":30,"utc":true},{"year":2022,"month":5,"date":30,"hours":6,"minutes":30,"utc":true}]},
      "axis":{"values":[{"year":2022,"month":4,"date":12,"hours":20,"utc":true},{"year":2022,"month":4,"date":16,"hours":20,"utc":true},{"year":2022,"month":4,"date":20,"hours":20,"utc":true},{"year":2022,"month":4,"date":24,"hours":20,"utc":true},{"year":2022,"month":4,"date":28,"hours":20,"utc":true},{"year":2022,"month":5,"date":2,"hours":20,"utc":true},{"year":2022,"month":5,"date":6,"hours":20,"utc":true},{"year":2022,"month":5,"date":10,"hours":20,"utc":true},{"year":2022,"month":5,"date":14,"hours":20,"utc":true},{"year":2022,"month":5,"date":18,"hours":20,"utc":true},{"year":2022,"month":5,"date":22,"hours":20,"utc":true}],
       "labelExpr":"datum.value < utc(2022,3,13) ? '12 Apr 2022' : utcFormat(datum.value, '%-d %b %H:%M')","labelAlign":"left","labelPadding":-1,"tickSize":4}},
    "y":{"field":"m","type":"quantitative","scale":{"domain":[-1689,718],"zero":false,"nice":false},
      "axis":{"orient":"right","values":[703.318,0,-1688.745],"labelExpr":"datum.value == 0 ? '0.00' : format(datum.value, '.3f')","tickSize":3,"labelPadding":1,"labelFlush":3}}}},
  {"data":{"name":"bars"},"mark":{"type":"line","color":"#ffff00","strokeWidth":2},
   "encoding":{
    "x":{"field":"t","type":"temporal","scale":{"domain":[{"year":2022,"month":4,"date":12,"hours":18,"minutes":30,"utc":true},{"year":2022,"month":5,"date":30,"hours":6,"minutes":30,"utc":true}]},
      "axis":{"values":[{"year":2022,"month":4,"date":12,"hours":20,"utc":true},{"year":2022,"month":4,"date":16,"hours":20,"utc":true},{"year":2022,"month":4,"date":20,"hours":20,"utc":true},{"year":2022,"month":4,"date":24,"hours":20,"utc":true},{"year":2022,"month":4,"date":28,"hours":20,"utc":true},{"year":2022,"month":5,"date":2,"hours":20,"utc":true},{"year":2022,"month":5,"date":6,"hours":20,"utc":true},{"year":2022,"month":5,"date":10,"hours":20,"utc":true},{"year":2022,"month":5,"date":14,"hours":20,"utc":true},{"year":2022,"month":5,"date":18,"hours":20,"utc":true},{"year":2022,"month":5,"date":22,"hours":20,"utc":true}],
       "labelExpr":"datum.value < utc(2022,3,13) ? '12 Apr 2022' : utcFormat(datum.value, '%-d %b %H:%M')","labelAlign":"left","labelPadding":-1,"tickSize":4}},
    "y":{"field":"s","type":"quantitative","scale":{"domain":[-1689,718],"zero":false,"nice":false},
      "axis":{"orient":"right","values":[703.318,0,-1688.745],"labelExpr":"datum.value == 0 ? '0.00' : format(datum.value, '.3f')","tickSize":3,"labelPadding":1,"labelFlush":3}}}}
 ]
}
]
}
